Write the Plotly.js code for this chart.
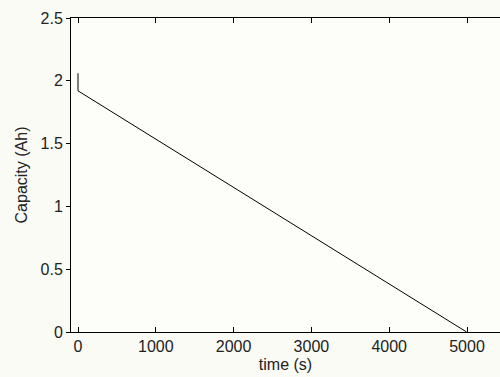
<!DOCTYPE html>
<html>
<head>
<meta charset="utf-8">
<script src="https://cdn.plot.ly/plotly-3.0.1.min.js"></script>
<style>
html,body{margin:0;padding:0;background:#fbfbf6;overflow:hidden;}
#chart{width:500px;height:377px;}
</style>
</head>
<body>
<div id="chart"></div>
<script>
// Data
var timeSeconds = [0, 0, 4995];
var capacityAh = [2.06, 1.92, 0];
var xTickValues = [0, 1000, 2000, 3000, 4000, 5000];
var xTickLabels = ['0', '1000', '2000', '3000', '4000', '5000'];
var yTickValues = [0, 0.5, 1, 1.5, 2, 2.5];
var yTickLabels = ['0', '0.5', '1', '1.5', '2', '2.5'];

var font = {family: 'Liberation Sans, Arial, sans-serif', size: 16, color: '#222'};

var trace = {
  x: timeSeconds,
  y: capacityAh,
  type: 'scatter',
  mode: 'lines',
  line: {color: '#000', width: 1},
  hoverinfo: 'skip'
};

var layout = {
  width: 500,
  height: 377,
  margin: {l: 71, r: 0, t: 18, b: 45},
  paper_bgcolor: '#fbfbf6',
  plot_bgcolor: '#fdfdf9',
  showlegend: false,
  font: font,
  xaxis: {
    range: [-90, 5424],
    tickvals: xTickValues,
    ticktext: xTickLabels,
    ticks: 'inside',
    ticklen: 5,
    tickcolor: '#000',
    showline: true,
    linecolor: '#000',
    linewidth: 1,
    mirror: 'ticks',
    showgrid: false,
    zeroline: false,
    tickfont: font,
    title: {text: 'time (s)', font: font, standoff: 4}
  },
  yaxis: {
    range: [0, 2.5],
    tickvals: yTickValues,
    ticktext: yTickLabels,
    ticks: 'outside',
    ticklen: 4,
    tickcolor: '#000',
    showline: true,
    linecolor: '#000',
    linewidth: 1,
    showgrid: false,
    zeroline: false,
    tickfont: font,
    title: {text: 'Capacity (Ah)', font: font, standoff: 8}
  }
};

Plotly.newPlot('chart', [trace], layout, {displayModeBar: false, staticPlot: true});
</script>
</body>
</html>
